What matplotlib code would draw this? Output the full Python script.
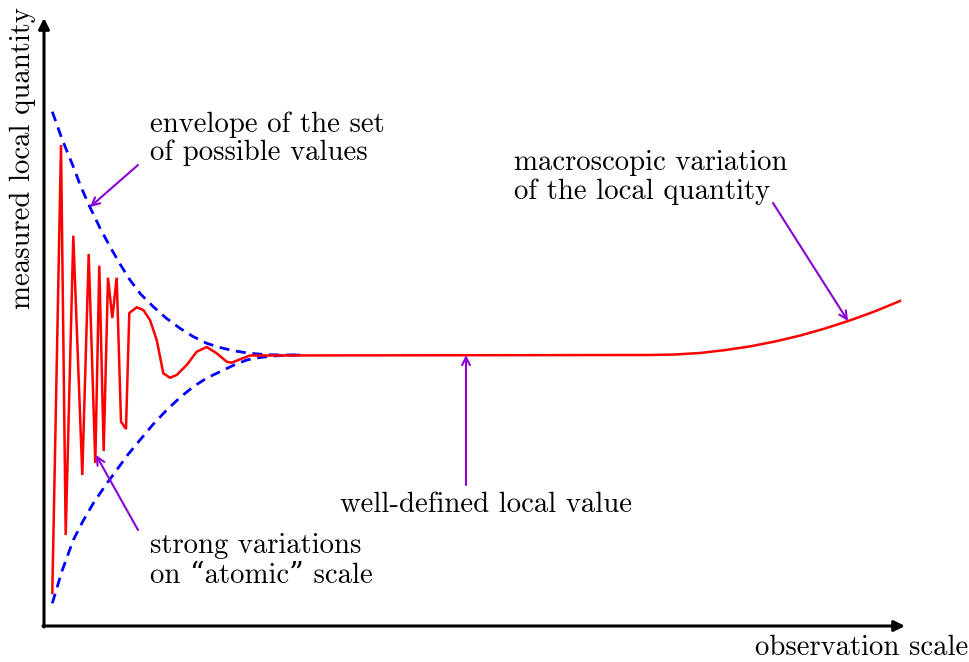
import matplotlib
matplotlib.use("Agg")
import matplotlib.pyplot as plt

plt.rcParams['font.family'] = ['cmr10', 'DejaVu Serif']
plt.rcParams['axes.formatter.use_mathtext'] = True

# measured local quantity vs observation scale (schematic units, origin at the axes corner)
red_x = [8.3, 17, 21.7, 29.3, 38.3, 44.7, 51.3, 55.3, 59.7, 64, 68.3, 72.7, 77, 82, 85.3,
         92.7, 99.3, 106, 112.7, 119.3, 126, 132.7, 142.7, 152.7, 162.7, 172.7, 182.7, 187.7,
         196, 206, 606, 631, 656, 681, 706, 731, 756, 781, 806, 831, 856]
red_y = [33, 481, 91, 390.3, 151, 372, 163, 360.3, 175, 348.3, 308, 348.3, 204.3, 197, 313,
         318.7, 316, 306, 286, 252.7, 248.3, 251, 261, 274.3, 279, 272.7, 264.3, 263.3,
         266.7, 270.5, 271, 271.5, 273, 275.9, 279.6, 284.5, 290.4, 297.5, 305.6, 314.7, 325]

upper_x = [8.3, 18, 29.3, 37, 46, 56, 66, 76, 86, 97, 109.3, 122, 136, 149, 162.7, 176,
           189.3, 205, 222.7, 240, 256]
upper_y = [514.3, 487, 459.3, 439, 418.7, 398, 379.3, 362, 346, 331.5, 319.3, 308, 297.7,
           289.5, 282.7, 278.5, 275.3, 272.8, 271.3, 271, 271]
lower_x = [8.3, 18, 29.3, 39, 49.3, 61, 72.7, 84, 96, 109, 122.7, 136, 149.3, 162, 176,
           189, 202.7, 216, 229.3, 243, 256]
lower_y = [22.7, 55, 86, 105, 122.7, 140, 156, 171.5, 186, 201.5, 216, 228.5, 239.3, 247.5,
           254.3, 260.5, 266, 268.5, 270, 270.7, 271]

fig = plt.figure(figsize=(9.7, 6.62), dpi=100)
ax = fig.add_axes([0, 0, 1, 1])
ax.set_xlim(-44, 926)
ax.set_ylim(-36, 626)
ax.axis('off')

# axes with arrows
ax.annotate('', xy=(0, 608), xytext=(0, -1),
            arrowprops=dict(arrowstyle='-|>', lw=2.2, color='black', mutation_scale=16,
                            shrinkA=0, shrinkB=0))
ax.annotate('', xy=(861, 0), xytext=(-1, 0),
            arrowprops=dict(arrowstyle='-|>', lw=2.2, color='black', mutation_scale=16,
                            shrinkA=0, shrinkB=0))

ax.plot(upper_x, upper_y, color='#0000ff', lw=2.0, dashes=(3.6, 2.4), zorder=2)
ax.plot(lower_x, lower_y, color='#0000ff', lw=2.0, dashes=(3.6, 2.4), zorder=2)
ax.plot(red_x, red_y, color='#ff0000', lw=1.8, zorder=3, solid_joinstyle='miter')

purple = '#8a00d4'
arrows = [((94, 461), (46, 419)), ((94, 96), (52, 171)),
          ((422, 141), (422, 271)), ((729, 423), (804, 305))]
for (x0, y0), (x1, y1) in arrows:
    ax.annotate('', xy=(x1, y1), xytext=(x0, y0),
                arrowprops=dict(arrowstyle='->', lw=1.5, color=purple, mutation_scale=14,
                                shrinkA=0, shrinkB=0), zorder=4)

fs = 20.7
ax.text(106, 494, 'envelope of the set', fontsize=fs, va='baseline', ha='left')
ax.text(106, 466, 'of possible values', fontsize=fs, va='baseline', ha='left')
ax.text(470, 456, 'macroscopic variation', fontsize=fs, va='baseline', ha='left')
ax.text(470, 427, 'of the local quantity', fontsize=fs, va='baseline', ha='left')
ax.text(442, 114, 'well-defined local value', fontsize=fs, va='baseline', ha='center')
ax.text(106, 73, 'strong variations', fontsize=fs, va='baseline', ha='left')
ax.text(106, 43, 'on \u201catomic\u201d scale', fontsize=fs, va='baseline', ha='left')
ax.text(711, -29, 'observation scale', fontsize=fs, va='baseline', ha='left')
ax.text(-21, 468, 'measured local quantity', fontsize=fs, va='center', ha='center', rotation=90)

fig.savefig('out.png', dpi=100)
